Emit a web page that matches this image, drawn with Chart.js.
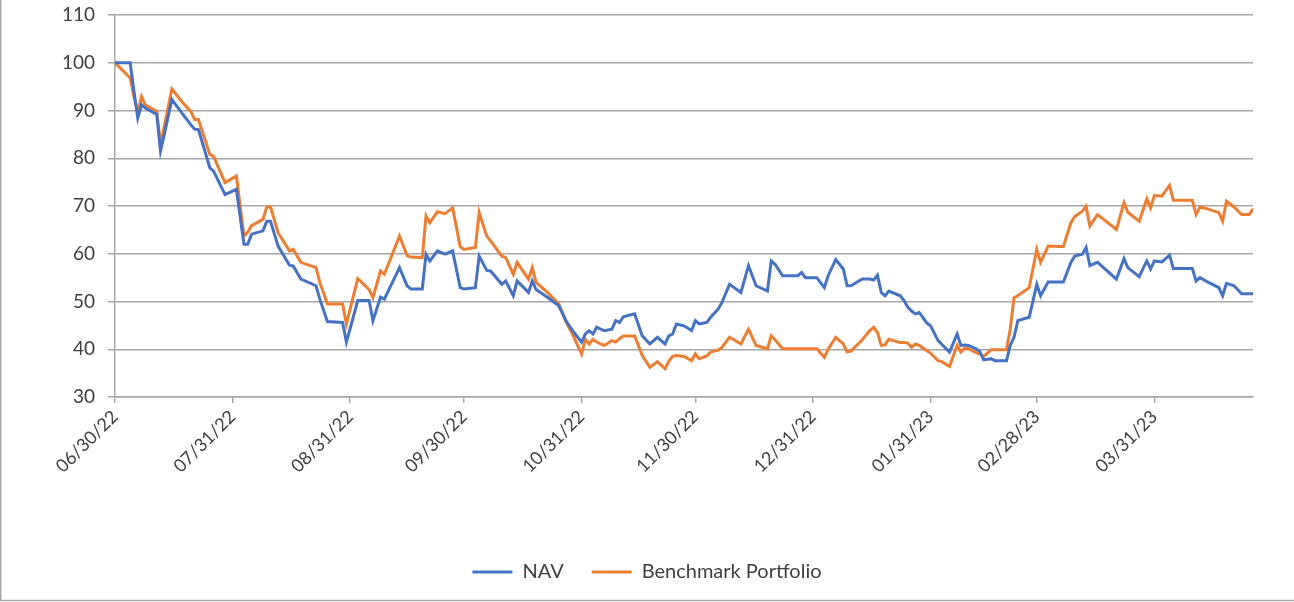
<!DOCTYPE html>
<html>
<head>
<meta charset="utf-8">
<script src="https://cdn.jsdelivr.net/npm/chart.js@4"></script>
<style>
  html, body { margin: 0; padding: 0; background: #fff; }
  #wrap { width: 1294px; height: 602px; position: relative; }
</style>
</head>
<body>
<div id="wrap"><canvas id="monGraphe"></canvas></div>
<script>
// days since 06/30/22
var days = [0,4,5,6,7,8,11,12,13,15,18,20,21,22,25,26,29,32,34,35,36,39,40,41,43,46,47,49,53,54,56,60,61,64,67,68,70,71,75,77,78,81,82,83,85,87,89,91,92,95,96,98,99,102,103,105,106,109,110,111,114,117,119,121,123,124,125,126,127,128,129,131,132,133,134,137,139,141,143,145,146,147,148,150,152,153,154,156,157,159,160,162,165,167,169,172,173,174,176,180,181,182,185,187,188,190,192,193,194,197,199,200,201,202,203,204,207,208,209,210,211,212,214,215,217,218,220,222,223,224,225,227,228,229,231,232,235,236,237,238,241,243,244,246,249,250,252,253,255,256,257,259,264,266,267,270,272,273,274,276,278,279,284,285,286,288,291,292,293,295,297,299,300];

var nav = [100,100,94,88.4,91.2,90.5,89.2,81.5,85,92.3,89.1,87,86.1,86,78,77.3,72.4,73.5,62,62,64.1,64.8,66.8,66.8,61.6,57.6,57.4,54.7,53.3,50.5,45.8,45.6,41.5,50.2,50.2,46,50.9,50.5,57.1,53.3,52.6,52.6,59.9,58.5,60.6,59.9,60.6,52.9,52.6,52.9,59.5,56.5,56.4,53.6,54.3,51.2,54.3,51.9,54.3,52.5,50.9,49.1,45.8,43.5,41.5,43.2,43.9,43.2,44.6,44.2,43.9,44.2,46,45.6,46.8,47.4,42.8,41.1,42.5,41.1,42.8,43.2,45.3,44.9,43.9,46,45.3,45.6,46.7,48.4,49.8,53.6,51.9,57.5,53.3,52.2,58.5,57.8,55.4,55.4,56.1,55,55,52.9,55.4,58.8,56.8,53.3,53.3,54.7,54.7,54.5,55.5,51.9,51.2,52.2,51.2,50.2,48.8,48,47.4,47.7,45.5,44.9,41.8,41,39.4,43.2,40.8,40.9,40.8,40.1,39.5,37.8,38,37.6,37.6,40.8,42.5,46,46.7,53.6,51.2,54.1,54.1,54.1,58.2,59.5,59.9,61.3,57.5,58.2,54.7,59,57.1,55.2,58.5,56.8,58.5,58.3,59.7,56.9,56.9,54.3,55,54.1,52.9,51.2,53.8,53.3,51.6,51.6,51.6];

var benchmark = [100,96.8,92.9,89.5,92.9,91.2,89.8,82.9,86.7,94.5,91.5,89.8,88.1,88.1,80.8,80.4,74.9,76.3,63.7,64.5,65.9,67.2,69.8,69.8,64.4,60.6,60.9,58.2,57.1,54,49.5,49.5,45.3,54.8,52.5,50.8,56.4,55.7,63.7,59.6,59.3,59.2,67.9,66.5,68.8,68.4,69.6,61.5,60.9,61.3,68.6,63.7,62.7,59.5,59.2,55.7,58.2,54.7,57.1,54,51.9,49.5,45.6,42.5,39,42.1,41.1,42.1,41.5,41.1,40.8,41.8,41.5,42.2,42.8,42.8,38.7,36.2,37.4,35.9,37.5,38.5,38.7,38.5,37.6,39,38,38.6,39.4,39.8,40.4,42.5,41.1,44.2,40.8,40.1,42.8,42,40.1,40.1,40.1,40.1,40.1,38.3,40,42.5,41.1,39.4,39.6,42,43.9,44.6,43.5,40.8,40.9,42.1,41.4,41.4,41.3,40.4,41.1,40.8,39.7,39.2,37.6,37.4,36.4,40.8,39.4,40.2,40.1,39.3,39,38.5,39.9,39.9,39.9,44.2,50.8,51.2,52.9,60.9,58.2,61.6,61.5,61.5,66.5,67.8,68.9,69.9,65.8,68.2,65.1,70.7,68.7,66.8,71.5,69.6,72.2,72.1,74.3,71.2,71.2,68.2,69.8,69.4,68.6,66.8,71,69.8,68.2,68.2,69.4];

var tickDays = [0,31,62,92,123,153,184,215,243,274];
var tickLabels = ['06/30/22','07/31/22','08/31/22','09/30/22','10/31/22','11/30/22','12/31/22','01/31/23','02/28/23','03/31/23'];

function points(vals) {
  var out = [];
  for (let i = 0; i < vals.length; i++) {
    out.push({x: days[i], y: vals[i]});
  }
  return out;
}

var cadre = {
  id: 'cadre',
  beforeDraw: function(chart) {
    var c = chart.ctx;
    c.save();
    c.fillStyle = '#ffffff';
    c.fillRect(0, 0, chart.width, chart.height);
    c.strokeStyle = '#a6a6a6';
    c.lineWidth = 1.5;
    c.beginPath();
    c.moveTo(0.75, 0);
    c.lineTo(0.75, 600.5);
    c.lineTo(chart.width, 600.5);
    c.stroke();
    c.restore();
  }
};

const ctx = document.getElementById('monGraphe');
var myChart = new Chart(ctx, {
  type: 'line',
  plugins: [cadre],
  data: {
    datasets: [{
      label: 'NAV',
      data: points(nav),
      borderColor: '#4472C4',
      backgroundColor: '#4472C4',
      borderWidth: 3
    }, {
      label: 'Benchmark Portfolio',
      data: points(benchmark),
      borderColor: '#ED7D31',
      backgroundColor: '#ED7D31',
      borderWidth: 3
    }]
  },
  options: {
    responsive: true,
    maintainAspectRatio: false,
    animation: false,
    devicePixelRatio: 1,
    layout: { padding: { top: 15, right: 41, bottom: 10, left: 41 } },
    elements: {
      point: { radius: 0 },
      line: { tension: 0 }
    },
    plugins: {
      tooltip: { enabled: false },
      legend: {
        position: 'bottom',
        labels: {
          usePointStyle: true,
          pointStyle: 'line',
          pointStyleWidth: 40,
          boxWidth: 40,
          padding: 28,
          color: '#404040',
          font: { family: 'Lato', size: 20 }
        }
      }
    },
    scales: {
      x: {
        type: 'linear',
        min: 0,
        max: 300,
        afterBuildTicks: function(scale) {
          scale.ticks = tickDays.map(function(d) { return {value: d}; });
        },
        afterFit: function(scale) { scale.height = 137; },
        border: { display: true, color: '#a6a6a6', width: 1.5 },
        grid: { drawOnChartArea: false, drawTicks: true, tickLength: 6, color: '#a6a6a6', lineWidth: 1.5 },
        ticks: {
          autoSkip: false,
          minRotation: 45,
          maxRotation: 45,
          padding: 3,
          color: '#404040',
          font: { family: 'Lato', size: 18 },
          callback: function(v) {
            var i = tickDays.indexOf(v);
            return i >= 0 ? tickLabels[i] : '';
          }
        }
      },
      y: {
        min: 30,
        max: 110,
        afterFit: function(scale) {
          scale.width = 74;
          scale.paddingTop = 0;
          scale.paddingBottom = 0;
        },
        border: { display: true, color: '#a6a6a6', width: 1.5 },
        grid: { drawTicks: true, tickLength: 7, color: '#a6a6a6', lineWidth: 1.5 },
        ticks: {
          stepSize: 10,
          padding: 13,
          color: '#404040',
          font: { family: 'Lato', size: 19 }
        }
      }
    }
  }
});
</script>
</body>
</html>
